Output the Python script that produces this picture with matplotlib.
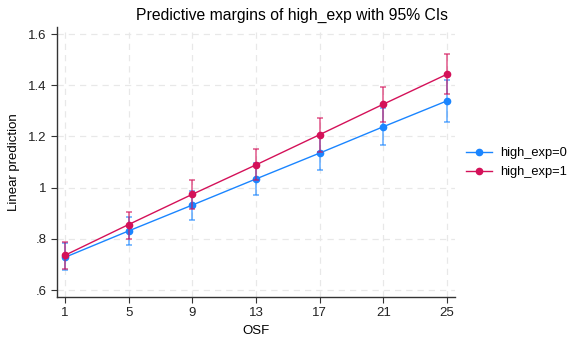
import numpy as np
import matplotlib
matplotlib.use("Agg")
from matplotlib import pyplot as plt

osf = [1, 5, 9, 13, 17, 21, 25]

# high_exp=0
m0 = [0.728, 0.831, 0.932, 1.034, 1.135, 1.238, 1.339]
lo0 = [0.678, 0.777, 0.875, 0.973, 1.068, 1.165, 1.258]
hi0 = [0.782, 0.884, 0.988, 1.095, 1.200, 1.313, 1.420]

# high_exp=1
m1 = [0.736, 0.856, 0.974, 1.089, 1.207, 1.326, 1.443]
lo1 = [0.684, 0.801, 0.917, 1.028, 1.140, 1.257, 1.365]
hi1 = [0.788, 0.906, 1.028, 1.150, 1.273, 1.395, 1.521]

yticks = [0.6, 0.8, 1.0, 1.2, 1.4, 1.6]
ylabels = ['.6', '.8', '1', '1.2', '1.4', '1.6']

c0 = '#1a85ff'
c1 = '#d41159'

plt.rcParams['font.family'] = ['Liberation Sans', 'DejaVu Sans']

fig = plt.figure(figsize=(5.68, 3.39), dpi=100)
ax = fig.add_axes([0.1004, 0.124, 0.7006, 0.796])

for m, lo, hi, c, lab in [(m0, lo0, hi0, c0, 'high_exp=0'), (m1, lo1, hi1, c1, 'high_exp=1')]:
    m = np.array(m)
    err = [m - np.array(lo), np.array(hi) - m]
    ax.errorbar(osf, m, yerr=err, fmt='none', ecolor=c, alpha=0.7,
                elinewidth=1.1, capsize=2.2, capthick=1.1)
    ax.plot(osf, m, color=c, lw=1.0, marker='o', ms=4.5, label=lab)

ax.set_xlim(0.5, 25.5)
ax.set_ylim(0.573, 1.627)
ax.set_xticks(osf)
ax.set_yticks(yticks)
ax.set_yticklabels(ylabels)
ax.tick_params(labelsize=9.5, length=4, color='#333333', labelcolor='#222222')
ax.grid(True, color='#e8e8e8', ls=(0, (5, 4)), lw=0.9)
ax.set_axisbelow(True)
for s in ['top', 'right']:
    ax.spines[s].set_visible(False)
for s in ['left', 'bottom']:
    ax.spines[s].set_color('#333333')
    ax.spines[s].set_linewidth(1.0)

ax.set_xlabel('OSF', fontsize=9.5, labelpad=4)
ax.set_ylabel('Linear prediction', fontsize=9.5, labelpad=6)

fig.text(0.514, 0.955, 'Predictive margins of high_exp with 95% CIs',
         ha='center', va='center', fontsize=11.3)

ax.legend(loc='center left', bbox_to_anchor=(0.812, 0.52),
          bbox_transform=fig.transFigure, frameon=False, borderaxespad=0,
          fontsize=9.3, handlelength=2.0, handletextpad=0.6, labelspacing=0.55)

fig.savefig('out.png', dpi=100)
